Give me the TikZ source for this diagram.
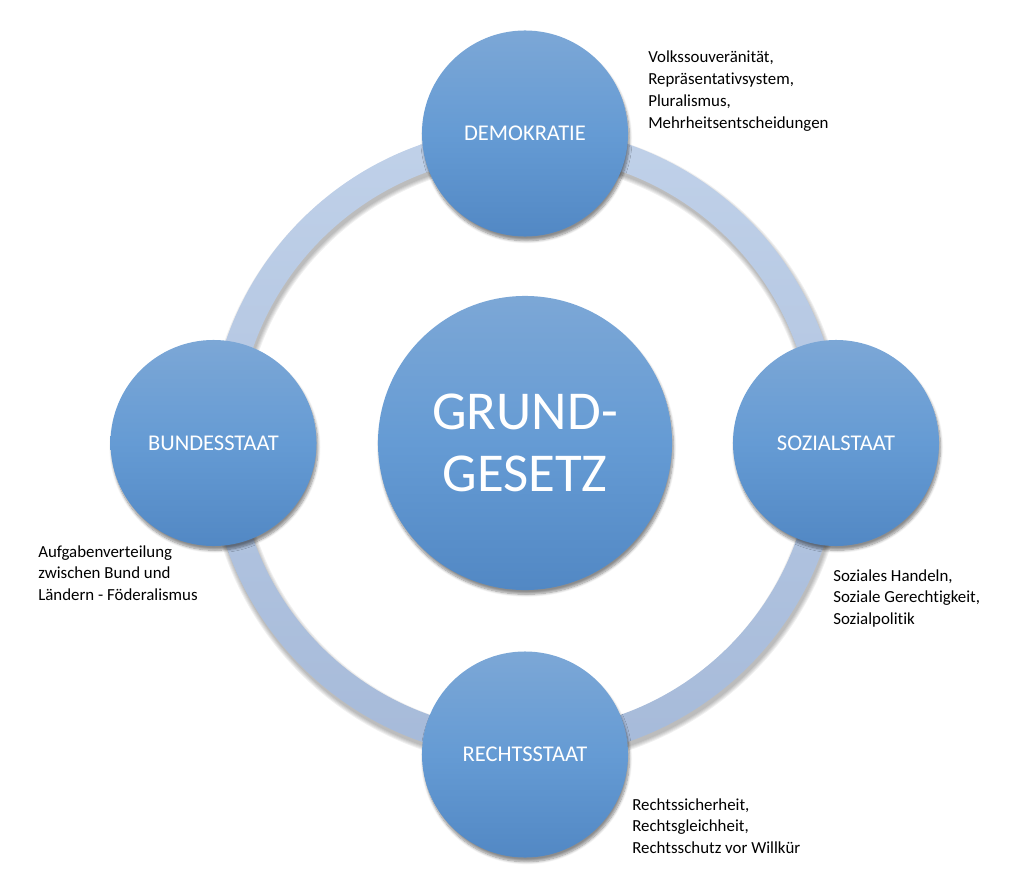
\documentclass[tikz,border=0pt]{standalone}
\usepackage{fontspec}
\setmainfont{Carlito}[Ligatures=NoCommon]
\usetikzlibrary{shadows.blur}
\definecolor{kreisoben}{RGB}{124,167,214}
\definecolor{kreismitte}{RGB}{101,155,212}
\definecolor{kreisunten}{RGB}{82,136,196}
\definecolor{ringoben}{RGB}{192,209,233}
\definecolor{ringunten}{RGB}{166,186,217}
\begin{document}
\begin{tikzpicture}
        [x=0.025cm,y=-0.025cm,
         schatten/.style={blur shadow={shadow xshift=1pt,shadow yshift=-3pt,shadow blur steps=8,shadow opacity=45}},
         kreis/.style={circle,inner sep=0pt,minimum size=5.15cm,top color=kreisoben,bottom color=kreisunten,middle color=kreismitte,text=white,font=\fontsize{16}{19}\selectfont,schatten},
         info/.style={anchor=north west,inner sep=0pt,align=left,font=\fontsize{12}{15.6}\selectfont}]
        \useasboundingbox (0,0) rectangle (1024,893);
        \coordinate (M) at (525,443);
        \foreach \b in {36,34,...,28}
            \draw [black,opacity=.06,line width=\b*0.025cm] ([xshift=1pt,yshift=-3pt]M) circle (302);
        \path [even odd rule,top color=ringoben,bottom color=ringunten] (M) circle (316) (M) circle (288);

        \node [kreis,minimum size=7.35cm,font=\fontsize{39}{44}\selectfont,align=center] (G) at (M) {GRUND-\\GESETZ};
        \node [kreis] (D) at (525,133.5) {DEMOKRATIE};
        \node [kreis] (S) at (836,443) {SOZIALSTAAT};
        \node [kreis] (R) at (525,754.5) {RECHTSSTAAT};
        \node [kreis] (B) at (213.5,443) {BUNDESSTAAT};

        \node [info] (d) at (648,51) {Volkssouveränität,\\Repräsentativsystem,\\Pluralismus,\\Mehrheitsentscheidungen};
        \node [info] (s) at (833,569) {Soziales Handeln,\\Soziale Gerechtigkeit,\\Sozialpolitik};
        \node [info] (r) at (632,798) {Rechtssicherheit,\\Rechtsgleichheit,\\Rechtsschutz vor Willkür};
        \node [info] (b) at (38,545) {Aufgabenverteilung\\zwischen Bund und\\Ländern - Föderalismus};
    \end{tikzpicture}
\end{document}
